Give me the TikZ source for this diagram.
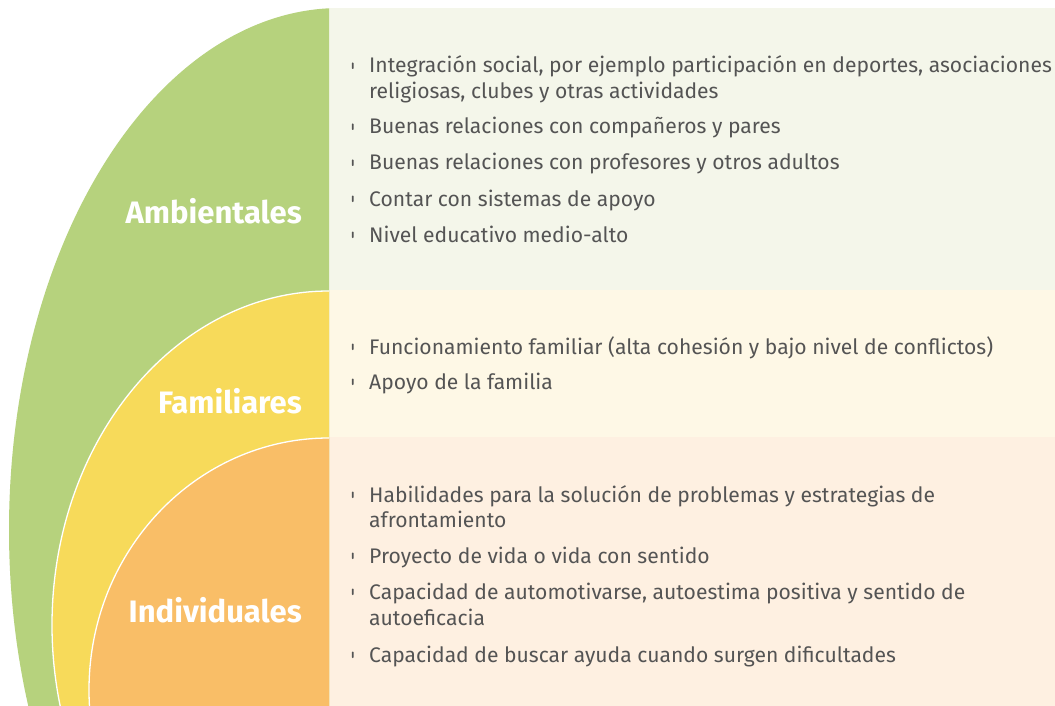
\documentclass[tikz,border=0pt]{standalone}
\usepackage{fontspec}
\setmainfont{Fira Sans}
\definecolor{gshape}{HTML}{B6D27D}
\definecolor{yshape}{HTML}{F7DA5A}
\definecolor{oshape}{HTML}{F9BE67}
\definecolor{gpanel}{HTML}{F4F6EA}
\definecolor{ypanel}{HTML}{FEF8E6}
\definecolor{opanel}{HTML}{FEF0E1}
\definecolor{txt}{HTML}{545454}
\tikzset{
  itemtext/.style={anchor=base west, inner sep=0pt, text=txt, font=\fontsize{21.1}{25}\selectfont},
  cattext/.style={anchor=base east, inner sep=0pt, text=white, font=\fontsize{31}{35}\selectfont\bfseries},
  ring/.style={draw=white, line width=1.3pt}
}
\newcommand\itm[3]{%
  \node[itemtext] (#1) at (369,#2) {#3};
  \fill[txt, rounded corners=0.8pt] (351.9,{#2-10.5}) rectangle (353.7,{#2-4});
}
\newcommand\cont[3]{%
  \node[itemtext] (#1) at (369,#2) {#3};
}
\begin{document}
\begin{tikzpicture}[x=1pt,y=-1pt]
\useasboundingbox (0,0) rectangle (1055,706);
\fill[white] (0,0) rectangle (1055,706);
% panels
\fill[gpanel] (329,8) rectangle (1055,290);
\fill[ypanel] (329,290) rectangle (1055,437);
\fill[opanel] (329,437) rectangle (1055,706);
% nested shapes
\begin{scope}
  \clip (0,0) rectangle (329,706);
  \fill[gshape] (340,530) ellipse [x radius=331pt, y radius=522pt];
  \filldraw[fill=yshape, ring] (329,625) ellipse [x radius=277pt, y radius=334pt];
  \filldraw[fill=oshape, ring] (329,690) ellipse [x radius=240pt, y radius=252pt];
\end{scope}
% category labels
\node[cattext] (amb) at (302,223) {Ambientales};
\node[cattext] (fam) at (302,413) {Familiares};
\node[cattext] (ind) at (302,622) {Individuales};
% Ambientales items
\itm{a1}{73}{Integración social, por ejemplo participación en deportes, asociaciones}
\cont{a1b}{99}{religiosas, clubes y otras actividades}
\itm{a2}{134}{Buenas relaciones con compañeros y pares}
\itm{a3}{170}{Buenas relaciones con profesores y otros adultos}
\itm{a4}{206}{Contar con sistemas de apoyo}
\itm{a5}{242}{Nivel educativo medio-alto}
% Familiares items
\itm{f1}{354}{Funcionamiento familiar (alta cohesión y bajo nivel de conflictos)}
\itm{f2}{389}{Apoyo de la familia}
% Individuales items
\itm{i1}{502}{Habilidades para la solución de problemas y estrategias de}
\cont{i1b}{527}{afrontamiento}
\itm{i2}{563}{Proyecto de vida o vida con sentido}
\itm{i3}{599}{Capacidad de automotivarse, autoestima positiva y sentido de}
\cont{i3b}{625}{autoeficacia}
\itm{i4}{662}{Capacidad de buscar ayuda cuando surgen dificultades}
\end{tikzpicture}
\end{document}
